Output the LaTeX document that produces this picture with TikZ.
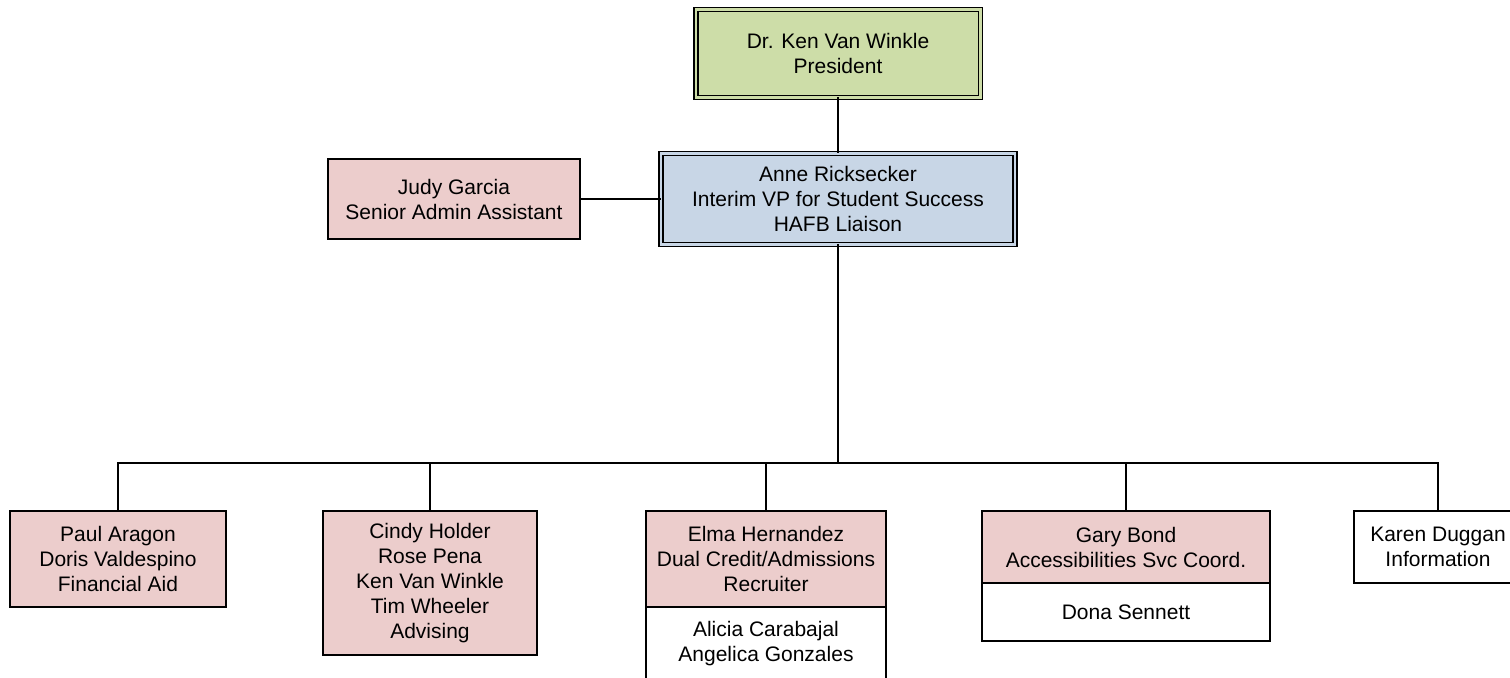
\documentclass[tikz,border=0pt]{standalone}
\usepackage{fontspec}
\setmainfont{Liberation Sans}
\definecolor{presgreen}{RGB}{205,221,168}
\definecolor{vpblue}{RGB}{200,214,230}
\definecolor{staffpink}{RGB}{236,205,204}
\tikzset{
  box/.style={draw=black, line width=1pt, align=center, inner sep=0pt, outer sep=0pt,
    font=\fontsize{10.5}{12.5}\selectfont},
  pinkbox/.style={box, fill=staffpink},
  plainbox/.style={box, fill=white},
  doublebox/.style={box, line width=0.75pt, double distance=1.25pt},
  conn/.style={draw=black, line width=1pt}
}
\begin{document}
\begin{tikzpicture}[x=0.5pt,y=-0.5pt]
\clip (0,0) rectangle (1510,678);
\fill[white] (0,0) rectangle (1510,678);

% leadership
\node[doublebox, fill=presgreen, double=presgreen, minimum width=142.25pt, minimum height=44pt]
  (pres) at (838,53.5) {Dr. Ken Van Winkle\\President};
\node[doublebox, fill=vpblue, double=vpblue, minimum width=177pt, minimum height=45.5pt]
  (vp) at (838,199) {Anne Ricksecker\\Interim VP for Student Success\\HAFB Liaison};
\node[pinkbox, minimum width=126pt, minimum height=40pt]
  (judy) at (454,199) {Judy Garcia\\Senior Admin Assistant};

% departments
\node[pinkbox, minimum width=108pt, minimum height=48pt]
  (paul) at (118,559) {Paul Aragon\\Doris Valdespino\\Financial Aid};
\node[pinkbox, minimum width=107pt, minimum height=72pt]
  (cindy) at (430,583) {Cindy Holder\\Rose Pena\\Ken Van Winkle\\Tim Wheeler\\Advising};
\node[pinkbox, minimum width=120pt, minimum height=48pt]
  (elma) at (766,559) {Elma Hernandez\\Dual Credit/Admissions\\Recruiter};
\node[plainbox, anchor=north, minimum width=120pt, minimum height=37pt]
  (elmastaff) at (elma.south) {Alicia Carabajal\\Angelica Gonzales};
\node[pinkbox, minimum width=144pt, minimum height=36pt]
  (gary) at (1126,547) {Gary Bond\\Accessibilities Svc Coord.};
\node[plainbox, anchor=north, minimum width=144pt, minimum height=29pt]
  (garystaff) at (gary.south) {Dona Sennett};
\node[plainbox, minimum width=84pt, minimum height=36pt]
  (karen) at (1438,547) {Karen Duggan\\Information};

% reporting lines
\coordinate (bus) at (838,463);
\draw[conn] (pres) -- (vp);
\draw[conn] (judy) -- (vp);
\draw[conn] (vp) -- (bus);
\draw[conn] (bus) -| (paul);
\draw[conn] (bus) -| (cindy);
\draw[conn] (bus) -| (elma);
\draw[conn] (bus) -| (gary);
\draw[conn] (bus) -| (karen);
\end{tikzpicture}
\end{document}
